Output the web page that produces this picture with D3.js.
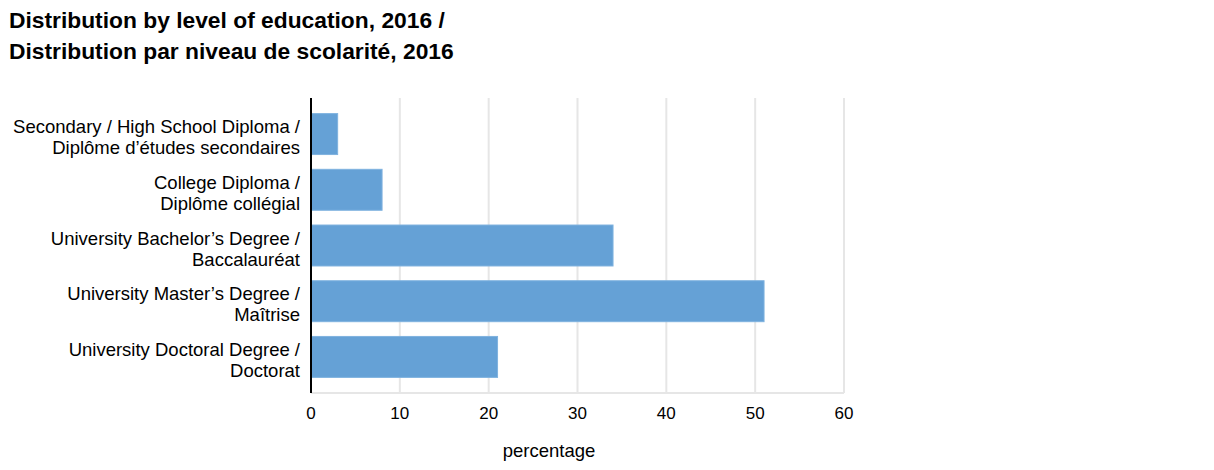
<!DOCTYPE html>
<html>
<head>
<meta charset="utf-8">
<script src="https://cdn.jsdelivr.net/npm/d3@7"></script>
<style>
  body { margin: 0; background: #fff; }
  text { font-family: "Liberation Sans", Arial, sans-serif; fill: #000; }
</style>
</head>
<body>
<svg id="chart" width="1214" height="470"></svg>
<script>
// Chart data
const categories = [
    ["Secondary / High School Diploma /", "Diplôme d’études secondaires"],
    ["College Diploma /", "Diplôme collégial"],
    ["University Bachelor’s Degree /", "Baccalauréat"],
    ["University Master’s Degree /", "Maîtrise"],
    ["University Doctoral Degree /", "Doctorat"]
];
const values = [3, 8, 34, 51, 21];
const xTicks = [0, 10, 20, 30, 40, 50, 60];
const titleLines = ["Distribution by level of education, 2016 /", "Distribution par niveau de scolarité, 2016"];
const xLabel = "percentage";

const svg = d3.select("#chart");
const margin = { top: 98, left: 311, right: 370, bottom: 77 };
const width = 1214 - margin.left - margin.right;
const height = 470 - margin.top - margin.bottom;

// Title
svg.append("g")
    .selectAll("text")
    .data(titleLines)
    .enter().append("text")
    .attr("x", 9)
    .attr("y", (d, i) => 27.5 + i * 31.5)
    .attr("font-size", 22.8)
    .attr("font-weight", "bold")
    .text(d => d);

const g = svg.append("g").attr("transform", `translate(${margin.left},${margin.top})`);

const x = d3.scaleLinear().domain([0, 60]).range([0, width]);
const y = d3.scaleBand()
    .domain(d3.range(categories.length))
    .range([0, height])
    .paddingInner(0.265)
    .paddingOuter(0.28);

// Gridlines
g.append("g")
    .selectAll("line")
    .data(xTicks.slice(1))
    .enter().append("line")
    .attr("x1", d => x(d)).attr("x2", d => x(d))
    .attr("y1", 0).attr("y2", height)
    .attr("stroke", "#e6e6e6")
    .attr("stroke-width", 2);

g.append("line")
    .attr("x1", 0).attr("x2", x(60))
    .attr("y1", height).attr("y2", height)
    .attr("stroke", "#e6e6e6")
    .attr("stroke-width", 2);

// Bars
g.append("g")
    .selectAll("rect")
    .data(values)
    .enter().append("rect")
    .attr("x", 0)
    .attr("y", (d, i) => y(i))
    .attr("width", d => x(d))
    .attr("height", y.bandwidth())
    .attr("fill", "#65a1d6")
    .attr("stroke", "#7fb2df")
    .attr("stroke-width", 1);

// Y axis line
g.append("line")
    .attr("x1", 0).attr("x2", 0)
    .attr("y1", 0).attr("y2", height)
    .attr("stroke", "#000")
    .attr("stroke-width", 2);

// Category labels
const labels = g.append("g")
    .selectAll("text")
    .data(categories)
    .enter().append("text")
    .attr("text-anchor", "end")
    .attr("font-size", 18.5)
    .attr("y", (d, i) => y(i) + y.bandwidth() / 2);

labels.selectAll("tspan")
    .data(d => d)
    .enter().append("tspan")
    .attr("x", -11)
    .attr("dy", (d, i) => i === 0 ? -1 : 21)
    .text(d => d);

// X tick labels
g.append("g")
    .selectAll("text")
    .data(xTicks)
    .enter().append("text")
    .attr("x", d => x(d))
    .attr("y", height + 26)
    .attr("text-anchor", "middle")
    .attr("font-size", 17)
    .text(d => d);

// X axis title
g.append("text")
    .attr("x", x(26.8))
    .attr("y", height + 64)
    .attr("text-anchor", "middle")
    .attr("font-size", 18.5)
    .text(xLabel);
</script>
</body>
</html>
